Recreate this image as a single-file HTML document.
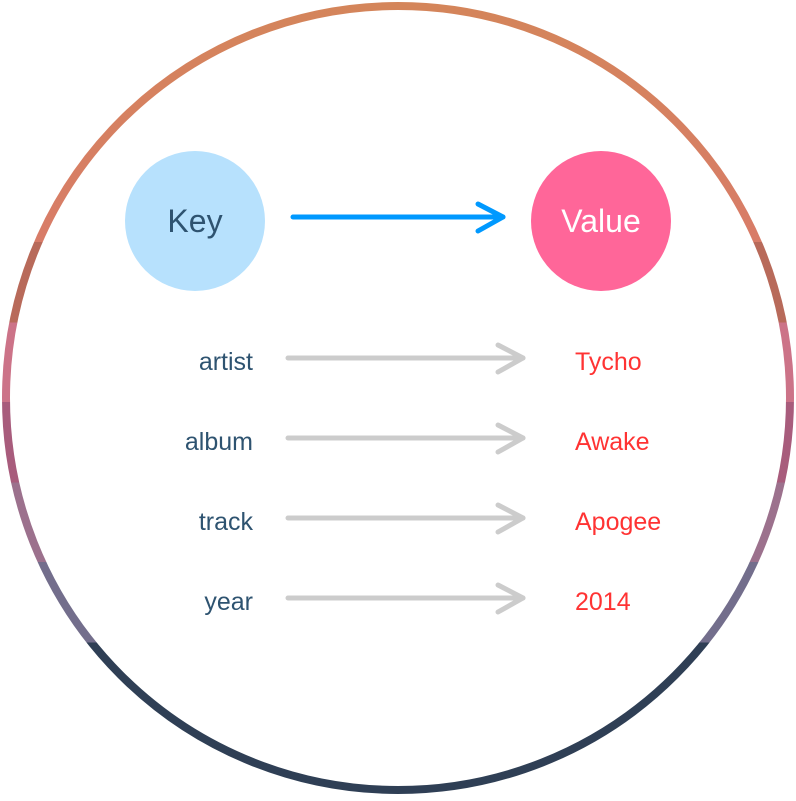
<!DOCTYPE html>
<html><head><style>body{margin:0;background:#fff}</style></head><body>
<svg width="796" height="796" viewBox="0 0 796 796" xmlns="http://www.w3.org/2000/svg">
<defs>
<linearGradient id="g" x1="0" y1="0" x2="0" y2="796" gradientUnits="userSpaceOnUse">
<stop offset="0" stop-color="#d4855a"/><stop offset="0.304" stop-color="#d87c68"/>
<stop offset="0.304" stop-color="#b86a5a"/><stop offset="0.405" stop-color="#b86a5a"/>
<stop offset="0.405" stop-color="#cc7388"/><stop offset="0.505" stop-color="#cc7388"/>
<stop offset="0.505" stop-color="#a85c7c"/><stop offset="0.606" stop-color="#a85c7c"/>
<stop offset="0.606" stop-color="#9c718d"/><stop offset="0.706" stop-color="#9c718d"/>
<stop offset="0.706" stop-color="#736e8c"/><stop offset="0.807" stop-color="#736e8c"/>
<stop offset="0.807" stop-color="#2f3f55"/><stop offset="1" stop-color="#2f3f55"/>
</linearGradient>
</defs>
<circle cx="398" cy="398" r="392" fill="#fff" stroke="url(#g)" stroke-width="8"/>
<circle cx="195" cy="221" r="70" fill="#b7e1fd"/>
<circle cx="601" cy="221" r="70" fill="#ff6699"/>
<g font-family="Liberation Sans, sans-serif" font-size="32">
<text x="195" y="232" text-anchor="middle" fill="#2e5370">Key</text>
<text x="601" y="232" text-anchor="middle" fill="#fff">Value</text>
</g>
<g stroke="#0099ff" stroke-width="5" fill="none" stroke-linecap="round" stroke-linejoin="round">
<line x1="293" y1="217" x2="503" y2="217"/><polyline points="478,204 503,217 478,231"/>
</g>
<g stroke="#cccccc" stroke-width="5" fill="none" stroke-linecap="round" stroke-linejoin="round">
<line x1="288" y1="358" x2="523" y2="358"/><polyline points="498,345 523,358 498,372"/>
<line x1="288" y1="438" x2="523" y2="438"/><polyline points="498,425 523,438 498,452"/>
<line x1="288" y1="518" x2="523" y2="518"/><polyline points="498,505 523,518 498,532"/>
<line x1="288" y1="598" x2="523" y2="598"/><polyline points="498,585 523,598 498,612"/>
</g>
<g font-family="Liberation Sans, sans-serif" font-size="25" fill="#2e5370" text-anchor="end">
<text x="253" y="370">artist</text><text x="253" y="450">album</text>
<text x="253" y="530">track</text><text x="253" y="610">year</text>
</g>
<g font-family="Liberation Sans, sans-serif" font-size="25" fill="#ff3333">
<text x="575" y="370">Tycho</text><text x="575" y="450">Awake</text>
<text x="575" y="530">Apogee</text><text x="575" y="610">2014</text>
</g>
</svg>
</body></html>
